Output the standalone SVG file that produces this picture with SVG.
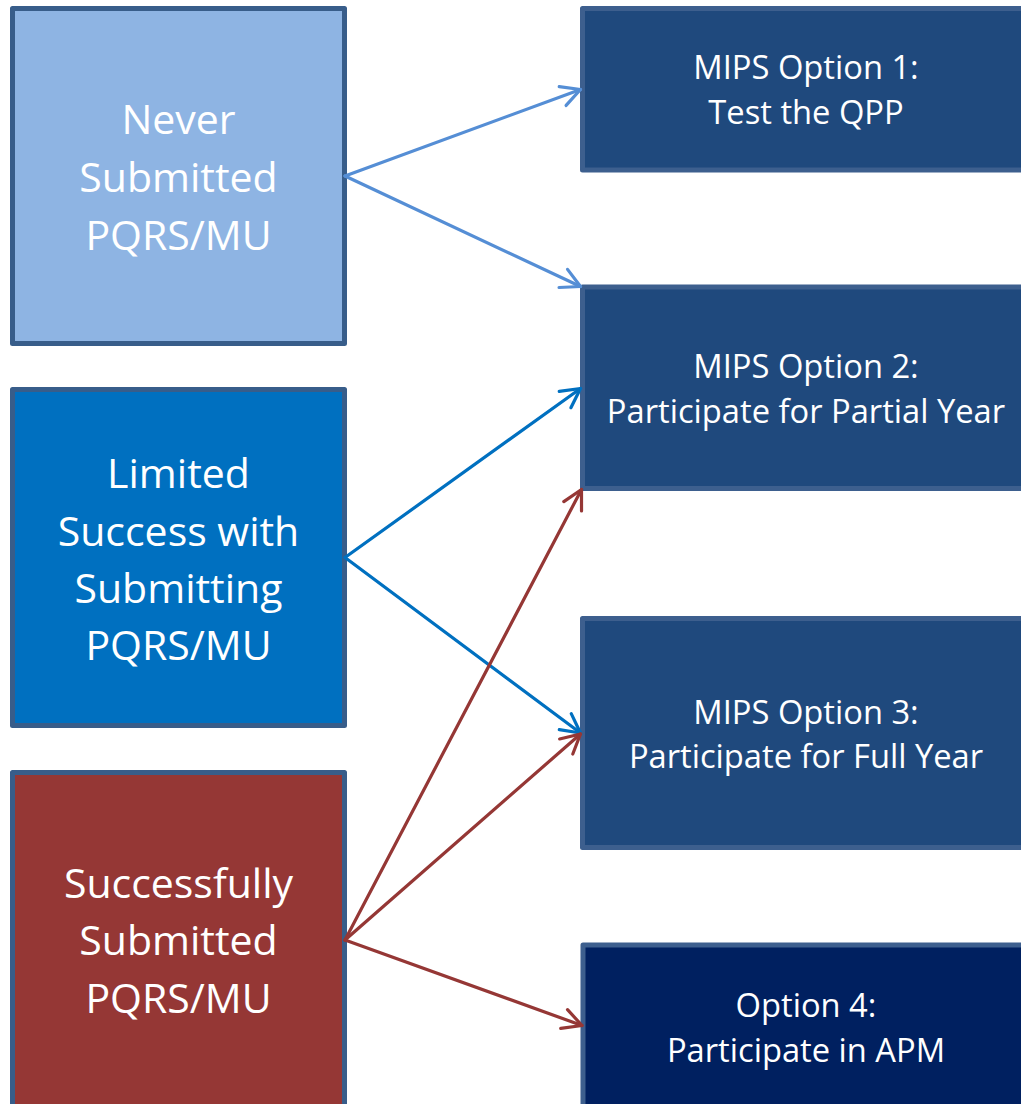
<svg xmlns="http://www.w3.org/2000/svg" width="1021" height="1104" viewBox="0 0 1021 1104">
<style>
.box{stroke:#385d8a;stroke-width:5;stroke-linejoin:round}
.rbox{stroke:#3d5f8e;stroke-width:5;stroke-linejoin:round}
.lt{font-family:"Open Sans","Noto Sans",sans-serif;font-size:41px;fill:#ffffff;text-anchor:middle}
.rt{font-family:"Open Sans","Noto Sans",sans-serif;font-size:32.7px;fill:#ffffff;text-anchor:middle}
.c{fill:none;stroke-width:3.2;stroke-linecap:round}
</style>
<defs>
<marker id="aL" markerUnits="userSpaceOnUse" viewBox="-24 -14 28 28" markerWidth="28" markerHeight="28" refX="0" refY="0" orient="auto"><path d="M-19,-10 L0,0 L-19,10" fill="none" stroke="#558ed5" stroke-width="3.2" stroke-linecap="round" stroke-linejoin="round"/></marker>
<marker id="aB" markerUnits="userSpaceOnUse" viewBox="-24 -14 28 28" markerWidth="28" markerHeight="28" refX="0" refY="0" orient="auto"><path d="M-19,-10 L0,0 L-19,10" fill="none" stroke="#0070c0" stroke-width="3.2" stroke-linecap="round" stroke-linejoin="round"/></marker>
<marker id="aR" markerUnits="userSpaceOnUse" viewBox="-24 -14 28 28" markerWidth="28" markerHeight="28" refX="0" refY="0" orient="auto"><path d="M-19,-10 L0,0 L-19,10" fill="none" stroke="#953735" stroke-width="3.2" stroke-linecap="round" stroke-linejoin="round"/></marker>
</defs>
<rect width="1021" height="1104" fill="#ffffff"/>
<g id="never">
<rect class="box" x="12.5" y="8.5" width="332" height="335" fill="#8eb4e3"/>
<text class="lt" x="178.5" y="134">Never</text>
<text class="lt" x="178.5" y="192">Submitted</text>
<text class="lt" x="178.5" y="250">PQRS/MU</text>
</g>
<g id="limited">
<rect class="box" x="12.5" y="389.5" width="332" height="336" fill="#0070c0"/>
<text class="lt" x="178.5" y="488">Limited</text>
<text class="lt" x="178.5" y="546">Success with</text>
<text class="lt" x="178.5" y="603">Submitting</text>
<text class="lt" x="178.5" y="660">PQRS/MU</text>
</g>
<g id="success">
<rect class="box" x="12.5" y="772.5" width="332" height="400" fill="#953735"/>
<text class="lt" x="178.5" y="898">Successfully</text>
<text class="lt" x="178.5" y="955">Submitted</text>
<text class="lt" x="178.5" y="1013">PQRS/MU</text>
</g>
<g id="opt1">
<rect class="rbox" x="582.5" y="8.5" width="500" height="161.5" fill="#1f497d"/>
<text class="rt" x="806" y="79">MIPS Option 1:</text>
<text class="rt" x="806" y="124">Test the QPP</text>
</g>
<g id="opt2">
<rect class="rbox" x="582.5" y="287" width="500" height="201.5" fill="#1f497d"/>
<text class="rt" x="806" y="378">MIPS Option 2:</text>
<text class="rt" x="806" y="423">Participate for Partial Year</text>
</g>
<g id="opt3">
<rect class="rbox" x="582.5" y="618.5" width="500" height="229" fill="#1f497d"/>
<text class="rt" x="806" y="724">MIPS Option 3:</text>
<text class="rt" x="806" y="768">Participate for Full Year</text>
</g>
<g id="opt4">
<rect class="rbox" x="583" y="945" width="500" height="200" fill="#002060"/>
<text class="rt" x="806" y="1017">Option 4:</text>
<text class="rt" x="806" y="1062">Participate in APM</text>
</g>
<g id="connectors">
<path class="c" stroke="#558ed5" d="M345,176 L580.5,89.5" marker-end="url(#aL)"/>
<path class="c" stroke="#558ed5" d="M345,176 L580.5,286.5" marker-end="url(#aL)"/>
<path class="c" stroke="#0070c0" d="M345,557.5 L580.5,388.5" marker-end="url(#aB)"/>
<path class="c" stroke="#0070c0" d="M345,557.5 L580.5,733" marker-end="url(#aB)"/>
<path class="c" stroke="#953735" d="M345,940 L581.5,489.5" marker-end="url(#aR)"/>
<path class="c" stroke="#953735" d="M345,940 L580.5,734" marker-end="url(#aR)"/>
<path class="c" stroke="#953735" d="M345,940 L582,1025.5" marker-end="url(#aR)"/>
</g>
</svg>
